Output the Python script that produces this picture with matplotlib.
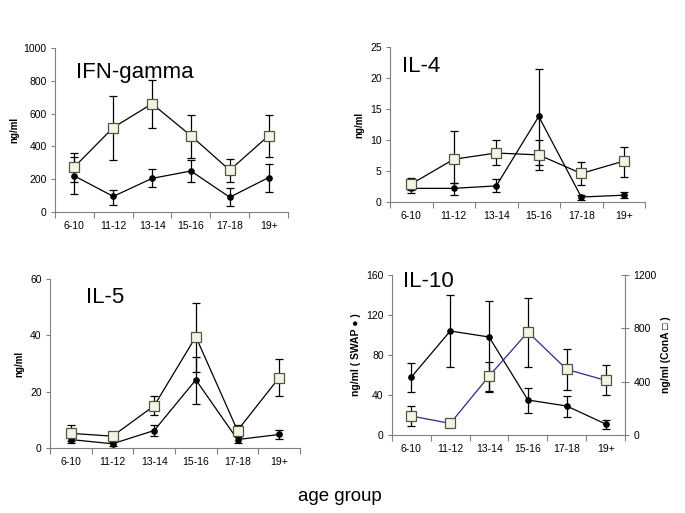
import matplotlib
matplotlib.use("Agg")
import matplotlib.pyplot as plt
import numpy as np

plt.rcParams['font.family'] = ['Liberation Sans', 'DejaVu Sans']

groups = ["6-10", "11-12", "13-14", "15-16", "17-18", "19+"]

# IFN-gamma
ifn_sq = [275, 515, 660, 465, 255, 465]
ifn_sq_lo = [180, 320, 515, 330, 185, 335]
ifn_sq_hi = [360, 710, 805, 590, 325, 590]
ifn_dot = [220, 95, 205, 250, 90, 210]
ifn_dot_lo = [110, 45, 150, 180, 35, 125]
ifn_dot_hi = [335, 135, 265, 315, 145, 295]

# IL-4
il4_sq = [2.9, 6.9, 7.9, 7.6, 4.6, 6.6]
il4_sq_lo = [2.0, 3.0, 5.9, 5.2, 2.8, 4.1]
il4_sq_hi = [3.9, 11.4, 10.0, 10.0, 6.4, 8.9]
il4_dot = [2.2, 2.2, 2.6, 13.8, 0.8, 1.1]
il4_dot_lo = [1.5, 1.2, 1.6, 6.0, 0.4, 0.7]
il4_dot_hi = [2.9, 3.0, 3.7, 21.4, 1.2, 1.6]

# IL-5
il5_sq = [5.2, 4.2, 15.0, 39.5, 6.2, 25.0]
il5_sq_lo = [2.5, 3.0, 11.7, 27.0, 4.0, 18.3]
il5_sq_hi = [8.1, 5.0, 18.3, 51.5, 8.0, 31.7]
il5_dot = [3.0, 1.5, 6.2, 24.2, 3.0, 4.8]
il5_dot_lo = [1.8, 0.8, 4.4, 15.5, 1.7, 3.3]
il5_dot_hi = [4.2, 2.2, 8.2, 32.3, 4.3, 6.3]

# IL-10 (SWAP on left axis, ConA on right axis)
il10_dot = [58, 104, 98, 35, 29, 11]
il10_dot_lo = [43, 68, 44, 22, 18, 6]
il10_dot_hi = [72, 140, 134, 47, 39, 15]
il10_sq = [142, 87, 442, 772, 492, 410]
il10_sq_lo = [70, 62, 325, 507, 337, 302]
il10_sq_hi = [217, 112, 550, 1030, 642, 525]

W, H = 685, 513
fig = plt.figure(figsize=(W / 100, H / 100), dpi=100)

def px_axes(l, r, t, b):
    return fig.add_axes([l / W, (H - b) / H, (r - l) / W, (b - t) / H])

SPINE = '#808080'
SQ_FACE = '#f4f4e6'
SQ_EDGE = '#55553f'
x = np.arange(len(groups))

def style(ax, ymax, ystep):
    ax.set_xlim(-0.5, len(groups) - 0.5)
    ax.set_ylim(0, ymax)
    ax.set_yticks(np.arange(0, ymax + ystep / 2, ystep))
    ax.set_xticks(np.arange(-0.5, len(groups), 1.0))
    ax.set_xticklabels([])
    ax.set_xticks(x, minor=True)
    ax.set_xticklabels(groups, minor=True, fontsize=7.5)
    ax.tick_params(axis='x', which='major', length=4, color=SPINE, direction='out')
    ax.tick_params(axis='x', which='minor', length=0, pad=6.5)
    ax.tick_params(axis='y', length=3, color=SPINE, direction='out', labelsize=7.5, pad=3)
    for s in ['top', 'right']:
        ax.spines[s].set_visible(False)
    for s in ['left', 'bottom']:
        ax.spines[s].set_color(SPINE)
        ax.spines[s].set_linewidth(0.8)

def err(vals, lo, hi):
    v = np.array(vals, float)
    return [v - np.array(lo, float), np.array(hi, float) - v]

def plot_sq(ax, vals, lo, hi, color='black'):
    ax.errorbar(x, vals, yerr=err(vals, lo, hi), fmt='none', ecolor='black',
                elinewidth=0.9, capsize=3, capthick=0.9, zorder=2)
    ax.plot(x, vals, '-', color=color, lw=0.9, zorder=3)
    ax.plot(x, vals, 's', ms=6.8, mfc=SQ_FACE, mec=SQ_EDGE, mew=0.9, zorder=4)

def plot_dot(ax, vals, lo, hi):
    ax.errorbar(x, vals, yerr=err(vals, lo, hi), fmt='-o', color='black',
                ms=3.8, lw=0.9, elinewidth=0.9, capsize=3, capthick=0.9, zorder=3)

# Panel 1
ax1 = px_axes(55, 288, 48, 212)
style(ax1, 1000, 200)
plot_dot(ax1, ifn_dot, ifn_dot_lo, ifn_dot_hi)
plot_sq(ax1, ifn_sq, ifn_sq_lo, ifn_sq_hi)
ax1.set_ylabel('ng/ml', fontsize=7, fontweight='bold', labelpad=3)

# Panel 2
ax2 = px_axes(390, 645, 47, 202)
style(ax2, 25, 5)
plot_dot(ax2, il4_dot, il4_dot_lo, il4_dot_hi)
plot_sq(ax2, il4_sq, il4_sq_lo, il4_sq_hi)
ax2.set_ylabel('ng/ml', fontsize=7, fontweight='bold', labelpad=4)

# Panel 3
ax3 = px_axes(50, 300, 279, 448)
style(ax3, 60, 20)
plot_dot(ax3, il5_dot, il5_dot_lo, il5_dot_hi)
plot_sq(ax3, il5_sq, il5_sq_lo, il5_sq_hi)
ax3.set_ylabel('ng/ml', fontsize=7, fontweight='bold', labelpad=4)

# Panel 4
ax4 = px_axes(392, 625, 275, 435)
style(ax4, 160, 40)
plot_dot(ax4, il10_dot, il10_dot_lo, il10_dot_hi)
ax4.set_ylabel('ng/ml ( SWAP \u25CF )', fontsize=7.5, fontweight='bold', labelpad=4)
ax4r = ax4.twinx()
ax4r.set_position(ax4.get_position())
ax4r.set_ylim(0, 1200)
ax4r.set_yticks(np.arange(0, 1201, 400))
for s in ['top', 'left', 'bottom']:
    ax4r.spines[s].set_visible(False)
ax4r.spines['right'].set_color(SPINE)
ax4r.spines['right'].set_linewidth(0.8)
ax4r.tick_params(axis='y', length=6, direction='inout', color=SPINE, labelsize=7.5, pad=3)
plot_sq(ax4r, il10_sq, il10_sq_lo, il10_sq_hi, color='#2b2b8a')
ax4r.set_ylabel('ng/ml (ConA \u25A1 )', fontsize=7.5, fontweight='bold', labelpad=3,
                family=['Liberation Sans', 'DejaVu Sans'])

# Panel titles
fig.text(76 / W, 1 - 78 / H, 'IFN-gamma', fontsize=16, va='baseline', ha='left')
fig.text(402 / W, 1 - 72 / H, 'IL-4', fontsize=16, va='baseline', ha='left')
fig.text(86 / W, 1 - 303 / H, 'IL-5', fontsize=16, va='baseline', ha='left')
fig.text(403 / W, 1 - 287 / H, 'IL-10', fontsize=16, va='baseline', ha='left')

fig.text(340 / W, 1 - 501 / H, 'age group', fontsize=13.4, va='baseline', ha='center')

fig.savefig('out.png', dpi=100)
